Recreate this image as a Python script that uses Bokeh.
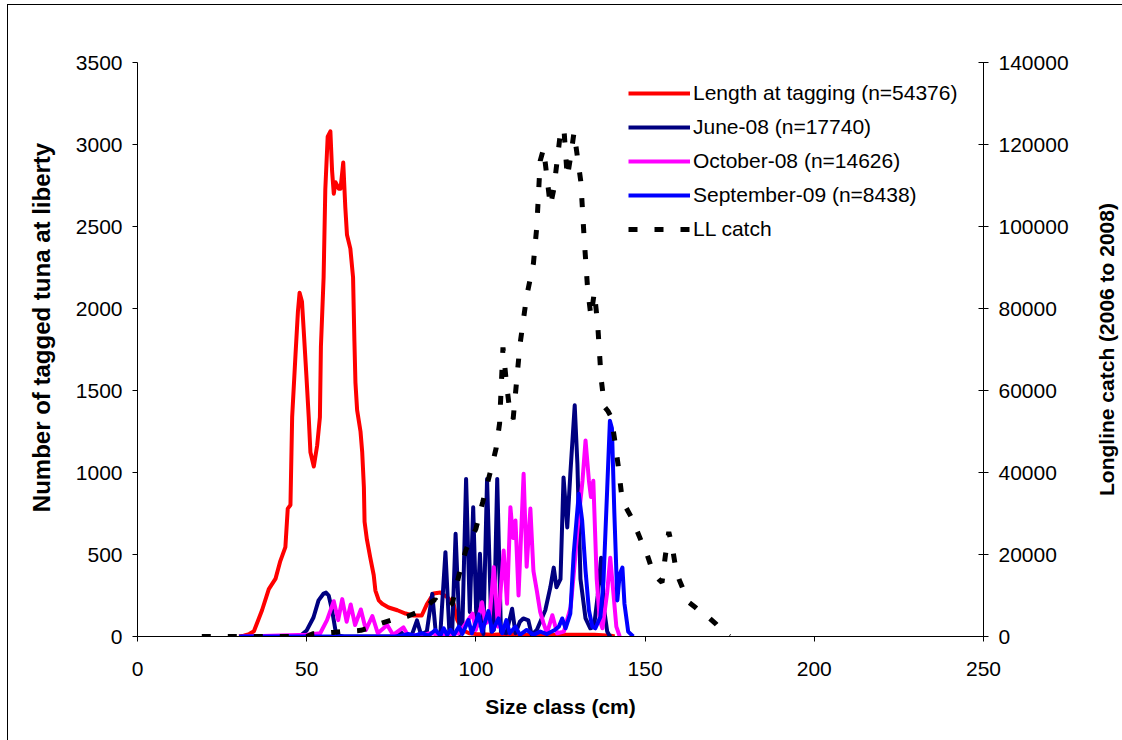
import math
from bokeh.plotting import figure
from bokeh.layouts import row
from bokeh.models import Range1d, LinearAxis, FixedTicker, Legend, LegendItem, NumeralTickFormatter
from bokeh.embed import file_html
from bokeh.resources import INLINE

# ---------------- data ----------------
red_x = [30, 31.4, 33, 34.4, 36.8, 38.8, 40.8, 42.2, 43.7, 44.4, 45.2, 45.7, 46.7, 47.4, 47.9,
         48.6, 49.1, 49.9, 50.6, 51.1, 52.1, 53.1, 53.9, 54.2, 55.0, 55.5, 56.2, 57.0, 57.5, 58.0,
         58.5, 59.5, 60.0, 60.8, 61.4, 61.9, 62.9, 63.7, 64.1, 64.4, 64.9, 65.9, 66.4, 66.9, 67.1,
         67.8, 68.8, 69.8, 70.3, 71.3, 72.3, 74.2, 76.8, 79.2, 81.5, 84, 85.6, 87.5, 89.5, 91.5,
         93.4, 94.5, 96, 98, 100, 105, 110, 115, 120, 125, 130, 135, 140, 141]
red_y = [0, 5, 15, 32, 160, 289, 353, 460, 545, 780, 802, 1337, 1722, 1979, 2096,
         2043, 1872, 1594, 1337, 1123, 1037, 1166, 1337, 1765, 2192, 2727, 3048, 3080, 2840, 2700,
         2770, 2730, 2730, 2890, 2620, 2450, 2365, 2190, 1800, 1550, 1380, 1250, 1125, 910, 700,
         590, 480, 375, 280, 220, 200, 177, 160, 140, 128, 128, 200, 262, 268, 240,
         200, 100, 40, 20, 15, 10, 15, 10, 8, 10, 10, 10, 5, 0]

navy_x = [31, 47, 48.5, 50, 52, 53.5, 55, 55.7, 56.5, 57.5, 58.5, 59.5, 61, 75, 77.7,
          79, 81, 82.6, 83.8, 85.5, 87.1, 88.2, 89.5, 91.0, 92.2, 93.0, 94.0, 95.2, 96.0, 97.1,
          98.2, 99.2, 100.2, 101.2, 102.2, 103.3, 104.6, 105.3, 106.3, 107.4, 109, 110.7, 111.7, 113, 114,
          115.5, 116.5, 118, 120.5, 122, 123, 123.8, 125, 125.9, 127, 127.9, 129.2, 130, 130.9, 132.4,
          133.8, 134.9, 136, 137, 138, 138.8, 139.5, 140]
navy_y = [0, 0, 10, 37, 116, 220, 262, 268, 250, 160, 37, 5, 0, 0, 30,
          0, 5, 98, 10, 30, 260, 10, 20, 514, 15, 30, 626, 15, 50, 961,
          150, 788, 60, 504, 15, 961, 30, 40, 961, 30, 20, 169, 20, 90, 110,
          98, 10, 40, 160, 300, 420, 300, 350, 970, 665, 990, 1410, 1050, 350, 110,
          50, 60, 250, 480, 150, 30, 5, 0]

mag_x = [31, 50, 54, 56, 58, 59.3, 60.5, 61.8, 63, 64.3, 66, 67.5, 69.4, 71, 73.8,
         75.5, 78.6, 80, 84, 86.5, 90, 95, 99, 100, 101.8, 102.8, 104, 105.3, 106.5, 108.2,
         109.2, 110.2, 111, 111.7, 112.6, 114.1, 115, 116.1, 117, 118, 119, 120, 121, 122.6, 124,
         126, 128, 129, 130, 131.5, 132.4, 133.4, 134, 134.7, 135.7, 136.6, 137.4, 138.8, 139.7, 140.7,
         141.5, 142.5]
mag_y = [0, 10, 20, 100, 215, 100, 228, 90, 195, 70, 165, 40, 125, 20, 70,
         10, 55, 5, 10, 20, 10, 20, 140, 40, 209, 80, 100, 423, 60, 524,
         200, 788, 600, 707, 250, 992, 425, 780, 400, 280, 150, 80, 20, 130, 20,
         30, 180, 400, 650, 950, 1195, 950, 850, 950, 350, 100, 50, 270, 480, 250,
         60, 0]

blue_x = [30, 76, 78, 80, 82, 84, 86, 88, 89.5, 90.5, 91.5, 92.5, 93.5, 95, 96,
          97.8, 98.8, 100.8, 101.8, 103.7, 104.8, 106.7, 107.8, 109, 110, 111.7, 113, 115, 117, 119,
          121, 123.3, 124.5, 125.5, 126.5, 127.9, 128.9, 129.7, 130.4, 131.4, 132.4, 133.4, 134.4, 135.3, 136.8,
          137.7, 138.8, 139.6, 140.2, 140.9, 141.8, 142.5, 143.3, 143.9, 145, 146.5]
blue_y = [0, 0, 5, 15, 5, 20, 5, 40, 5, 50, 10, 40, 10, 60, 15,
          100, 20, 135, 30, 155, 30, 110, 20, 100, 20, 60, 10, 40, 10, 30,
          15, 40, 60, 110, 50, 140, 504, 700, 870, 707, 402, 160, 60, 50, 120,
          340, 900, 1315, 1270, 760, 220, 380, 420, 200, 30, 0]

ll_x = [19, 30, 40, 50, 52, 55, 58, 60, 63, 66, 70, 72, 75, 78, 80, 83, 85, 87, 88, 90,
        91, 92, 93, 94, 95, 96, 97, 98, 99, 100, 101, 102, 103, 104, 105, 106, 107, 108, 109, 110,
        111, 112, 113, 114, 115, 116, 117, 118, 119, 120, 121, 122, 123, 124, 125, 126, 127, 128, 129, 130,
        131, 132, 133, 134, 135, 136, 137, 138, 139, 140, 141, 142, 143, 144, 145, 146, 147, 148, 149, 150,
        151, 152, 153, 154, 155, 156, 157, 158, 159, 160, 161, 162, 163, 165, 167, 169, 171, 173, 174, 175]
ll_y = [0, 0, 0, 0, 700, 800, 1000, 1200, 1300, 1500, 2500, 3200, 4000, 4600, 5000, 6000, 7000, 8500, 9000, 7500,
        7000, 7500, 8000, 11500, 15000, 18000, 21000, 23000, 24500, 26300, 29500, 32700, 36000, 39300, 42500, 46000, 52000, 70500, 62000, 55000,
        53000, 62000, 71000, 77000, 83000, 87000, 91000, 100000, 116000, 119000, 112000, 105000, 109000, 116000, 123000, 124000, 112000, 117000, 123000, 117000,
        111000, 97000, 85000, 78000, 84000, 76000, 63000, 56000, 55000, 53500, 48000, 42000, 35000, 32000, 30500, 29000, 27000, 25000, 23000, 21500,
        19000, 16500, 15000, 14000, 13200, 19800, 25500, 22000, 17000, 14000, 12000, 10000, 8300, 7000, 5500, 4500, 3000, 1200, 500, 0]

series_labels = ["Length at tagging (n=54376)", "June-08 (n=17740)", "October-08 (n=14626)",
                 "September-09 (n=8438)", "LL catch"]
x_ticks = [0, 50, 100, 150, 200, 250]
y_ticks = [0, 500, 1000, 1500, 2000, 2500, 3000, 3500]
y2_ticks = [0, 20000, 40000, 60000, 80000, 100000, 120000, 140000]
left_title = "Number of tagged tuna at liberty"
right_title = "Longline catch (2006 to 2008)"
x_title = "Size class (cm)"

FONT = "Liberation Sans"


def title_strip(text, size, border_left, frame_h, border_top, border_bottom):
    """Narrow figure whose left-axis title (reading bottom-to-top) serves as a side title."""
    f = figure(frame_width=3, frame_height=frame_h, x_range=Range1d(0, 1), y_range=Range1d(0, 1),
               min_border_left=border_left, min_border_right=0,
               min_border_top=border_top, min_border_bottom=border_bottom,
               output_backend="svg", toolbar_location=None)
    f.xaxis.visible = False
    f.xgrid.visible = False
    f.ygrid.visible = False
    f.outline_line_color = None
    f.background_fill_color = "white"
    f.border_fill_color = "white"
    a = f.yaxis[0]
    a.axis_label = text
    a.axis_line_color = None
    a.major_tick_line_color = None
    a.minor_tick_line_color = None
    a.major_label_text_font_size = "0px"
    a.major_label_text_alpha = 0
    a.major_tick_out = 0
    a.major_tick_in = 0
    a.major_label_standoff = 0
    a.axis_label_standoff = 2
    a.axis_label_text_font = FONT
    a.axis_label_text_font_size = size
    a.axis_label_text_font_style = "bold"
    a.axis_label_text_color = "black"
    a.ticker = FixedTicker(ticks=[])
    return f


p = figure(frame_width=846, frame_height=574,
           x_range=Range1d(0, 250), y_range=Range1d(0, 3500),
           min_border_left=78, min_border_right=95, min_border_top=57, min_border_bottom=104,
           output_backend="svg", toolbar_location=None)
p.extra_y_ranges = {"ll": Range1d(0, 140000)}

p.xgrid.visible = False
p.ygrid.visible = False
p.outline_line_color = None
p.background_fill_color = "white"
p.border_fill_color = "white"

p.xaxis.ticker = FixedTicker(ticks=x_ticks)
p.yaxis.ticker = FixedTicker(ticks=y_ticks)
p.xaxis.axis_label = x_title

ax2 = LinearAxis(y_range_name="ll", ticker=FixedTicker(ticks=y2_ticks),
                 formatter=NumeralTickFormatter(format="0"))
p.add_layout(ax2, "right")

for ax in [p.xaxis[0], p.yaxis[0], ax2]:
    ax.axis_line_color = "black"
    ax.axis_line_width = 1
    ax.major_tick_line_color = "black"
    ax.minor_tick_line_color = None
    ax.major_tick_out = 5
    ax.major_tick_in = 0
    ax.major_label_text_font = FONT
    ax.major_label_text_font_size = "21px"
    ax.major_label_text_color = "black"
    ax.axis_label_text_font = FONT
    ax.axis_label_text_font_size = "21px"
    ax.axis_label_text_font_style = "bold"
    ax.axis_label_text_color = "black"
    ax.major_label_standoff = 10

ax2.major_tick_in = 5
p.xaxis[0].major_label_standoff = 20
p.xaxis[0].axis_label_standoff = 16

r_red = p.line(red_x, red_y, line_color="#FF0000", line_width=4, line_join="round")
r_navy = p.line(navy_x, navy_y, line_color="#000080", line_width=4, line_join="round")
r_mag = p.line(mag_x, mag_y, line_color="#FF00FF", line_width=4, line_join="round")
r_blue = p.line(blue_x, blue_y, line_color="#0000FF", line_width=4, line_join="round")
r_ll = p.line(ll_x, ll_y, y_range_name="ll", line_color="black", line_width=5, line_dash="9 17")

legend = Legend(items=[LegendItem(label=lab, renderers=[r]) for lab, r in
                       zip(series_labels, [r_red, r_navy, r_mag, r_blue, r_ll])],
                location=(491, 395))
legend.glyph_width = 62
legend.glyph_height = 24
legend.label_height = 24
legend.spacing = 10
legend.padding = 0
legend.margin = 0
legend.label_standoff = 3
legend.border_line_color = None
legend.background_fill_alpha = 0
legend.label_text_font = FONT
legend.label_text_font_size = "21px"
legend.label_text_color = "black"
p.add_layout(legend)

p_left = title_strip(left_title, "24px", 48, 530, 57, 148)
p_right = title_strip(right_title, "21px", 41, 574, 57, 104)

layout = row(p_left, p, p_right,
             styles={"margin-left": "7px", "margin-top": "4px",
                     "border-left": "1px solid black", "border-top": "1px solid black",
                     "background-color": "white"})

open("out.html", "w").write(file_html(layout, INLINE))
